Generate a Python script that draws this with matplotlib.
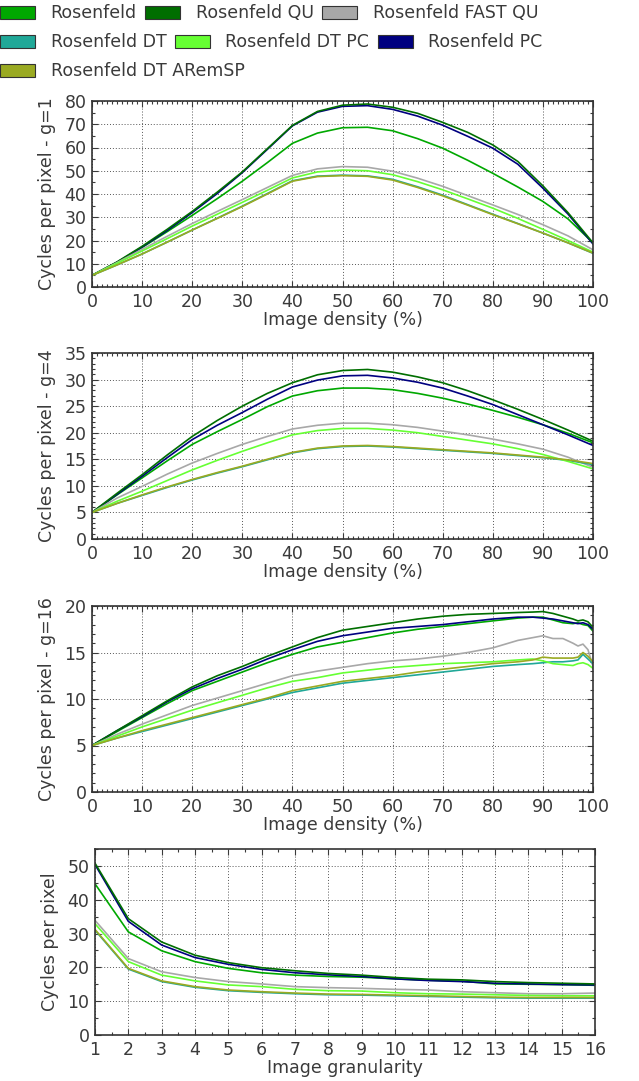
import numpy as np
import matplotlib.pyplot as plt
from matplotlib.patches import Patch
from matplotlib.ticker import MultipleLocator

# series names and colours
names = ["Rosenfeld", "Rosenfeld QU", "Rosenfeld FAST QU", "Rosenfeld DT",
         "Rosenfeld DT PC", "Rosenfeld PC", "Rosenfeld DT ARemSP"]
colors = ["#00a800", "#006e00", "#a8a8a8", "#20a898", "#66ff33", "#000080", "#9aaa22"]

# ---- g=1 ----
dens = list(range(0, 101, 5))
g1_ros = [5, 10.6, 17.0, 23.8, 30.8, 38, 45.5, 53.5, 61.8, 66.2, 68.5, 68.7, 67.2, 63.8, 59.7, 54.5, 48.9, 43, 36.8, 29.3, 19.0]
g1_qu = [5, 10.8, 17.5, 24.8, 32.5, 40.8, 49.5, 59.5, 69.5, 75.5, 78.2, 78.7, 77.3, 74.7, 70.8, 66.5, 61.1, 54.0, 43.5, 32.0, 19.0]
g1_fastqu = [5, 10.5, 16.2, 21.8, 27.3, 32.5, 37.6, 42.8, 48.0, 50.8, 51.8, 51.5, 49.8, 46.8, 43.3, 39.3, 35.3, 31.2, 26.8, 22, 16.0]
g1_dt = [5, 9.5, 14.2, 19.3, 24.5, 29.6, 34.8, 40.2, 45.7, 47.7, 48.1, 47.8, 46.3, 43.1, 39.5, 35.4, 31.3, 27.3, 23.2, 19, 14.5]
g1_dtpc = [5, 10.2, 15.5, 20.8, 26.2, 31.3, 36.4, 41.6, 46.9, 49.5, 50.3, 50.0, 48.3, 45.3, 41.8, 37.9, 33.9, 29.5, 24.8, 20, 15]
g1_pc = [5, 10.6, 17.2, 24.3, 32.0, 40.2, 49.2, 59.2, 69.3, 75.2, 77.7, 78.0, 76.4, 73.5, 69.6, 64.8, 59.7, 52.8, 42.5, 31.4, 18.5]
g1_arem = [5, 9.5, 14.2, 19.3, 24.5, 29.5, 34.6, 40, 45.5, 47.5, 47.9, 47.6, 46.0, 42.8, 39.2, 35.2, 31.1, 27.2, 23.2, 19, 14.6]

# ---- g=4 ----
g4_ros = [5, 8.3, 11.5, 14.7, 17.8, 20.2, 22.5, 24.9, 26.9, 27.9, 28.4, 28.4, 28.1, 27.4, 26.5, 25.4, 24.2, 22.9, 21.5, 19.9, 18.1]
g4_qu = [5, 8.6, 12.1, 15.8, 19.3, 22.3, 25.0, 27.4, 29.4, 30.9, 31.7, 31.9, 31.4, 30.5, 29.4, 27.9, 26.2, 24.4, 22.5, 20.5, 18.4]
g4_fastqu = [5, 7.7, 9.9, 12.2, 14.3, 16.1, 17.8, 19.3, 20.7, 21.4, 21.8, 21.8, 21.5, 21.0, 20.3, 19.6, 18.8, 17.9, 16.9, 15.4, 13.5]
g4_dt = [5, 6.7, 8.2, 9.7, 11.1, 12.4, 13.6, 14.9, 16.2, 17.0, 17.4, 17.5, 17.3, 17.0, 16.7, 16.4, 16.1, 15.7, 15.3, 14.8, 14.0]
g4_dtpc = [5, 7.1, 9.0, 11.0, 13.0, 14.8, 16.5, 18.1, 19.6, 20.4, 20.8, 20.8, 20.5, 20.0, 19.3, 18.6, 17.9, 17.0, 15.9, 14.6, 13.2]
g4_pc = [5, 8.4, 11.8, 15.3, 18.7, 21.4, 23.8, 26.3, 28.6, 29.9, 30.7, 30.8, 30.3, 29.5, 28.4, 26.9, 25.3, 23.4, 21.5, 19.6, 17.6]
g4_arem = [5, 6.7, 8.3, 9.8, 11.2, 12.5, 13.7, 15.0, 16.3, 17.1, 17.5, 17.6, 17.4, 17.1, 16.8, 16.5, 16.2, 15.8, 15.4, 14.9, 14.2]

# ---- g=16 ----
dens16 = list(range(0, 86, 5)) + [88, 90, 92, 94, 96, 97, 98, 99, 100]
g16_ros = [5, 6.5, 8.0, 9.5, 10.9, 11.9, 12.9, 13.9, 14.8, 15.6, 16.1, 16.6, 17.1, 17.5, 17.8, 18.1, 18.4, 18.7,
           18.8, 18.8, 18.5, 18.2, 18.1, 18.2, 18.0, 17.9, 17.3]
g16_qu = [5, 6.6, 8.2, 9.8, 11.3, 12.5, 13.5, 14.6, 15.6, 16.6, 17.4, 17.8, 18.2, 18.6, 18.9, 19.1, 19.2, 19.3,
          19.35, 19.4, 19.2, 18.9, 18.6, 18.4, 18.5, 18.3, 17.7]
g16_fastqu = [5, 6.2, 7.3, 8.3, 9.3, 10.1, 10.9, 11.7, 12.5, 13.0, 13.4, 13.8, 14.1, 14.3, 14.6, 15.0, 15.5, 16.3,
              16.6, 16.8, 16.5, 16.5, 16.0, 15.7, 15.9, 15.3, 13.5]
g16_dt = [5, 5.8, 6.5, 7.2, 7.9, 8.6, 9.3, 10.0, 10.7, 11.2, 11.7, 12.0, 12.3, 12.6, 12.9, 13.2, 13.5, 13.7,
          13.8, 13.9, 14.0, 14.0, 14.1, 14.2, 14.8, 14.3, 13.8]
g16_dtpc = [5, 6.0, 7.0, 7.9, 8.8, 9.6, 10.4, 11.2, 11.9, 12.3, 12.8, 13.1, 13.4, 13.6, 13.8, 13.9, 14.0, 14.2,
            14.3, 14.1, 13.8, 13.7, 13.6, 13.8, 13.9, 13.7, 13.3]
g16_pc = [5, 6.6, 8.1, 9.7, 11.1, 12.2, 13.2, 14.3, 15.3, 16.2, 16.8, 17.2, 17.6, 17.8, 18.0, 18.3, 18.6, 18.8,
          18.8, 18.7, 18.6, 18.4, 18.2, 18.1, 18.2, 18.0, 17.5]
g16_arem = [5, 5.8, 6.6, 7.3, 8.0, 8.7, 9.4, 10.1, 10.9, 11.4, 11.9, 12.2, 12.5, 12.9, 13.2, 13.5, 13.8, 14.0,
            14.2, 14.5, 14.4, 14.4, 14.4, 14.5, 15.0, 14.6, 14.0]

# ---- granularity ----
gran = list(range(1, 17))
gr_ros = [44.7, 30.5, 24.9, 21.7, 19.7, 18.4, 17.7, 17.3, 17.1, 16.6, 16.2, 15.9, 15.1, 15.0, 14.9, 14.7]
gr_qu = [50.8, 34.4, 27.5, 23.6, 21.4, 19.9, 19.0, 18.2, 17.7, 17.0, 16.5, 16.3, 15.8, 15.5, 15.3, 15.1]
gr_fastqu = [33.9, 22.6, 18.7, 17.0, 15.8, 15.1, 14.3, 14.0, 13.8, 13.5, 13.3, 12.8, 12.5, 12.2, 12.2, 12.4]
gr_dt = [31.0, 19.5, 15.8, 14.1, 13.1, 12.6, 12.2, 11.9, 11.8, 11.6, 11.4, 11.2, 11.0, 10.9, 10.9, 10.9]
gr_dtpc = [32.9, 21.7, 17.7, 16.0, 14.8, 14.3, 13.5, 13.1, 13.0, 12.5, 12.2, 12.1, 11.9, 11.7, 11.6, 11.6]
gr_pc = [50.4, 33.6, 26.6, 22.9, 20.9, 19.4, 18.4, 17.8, 17.3, 16.6, 16.1, 15.8, 15.3, 15.1, 14.9, 14.8]
gr_arem = [31.2, 19.7, 16.0, 14.3, 13.3, 12.8, 12.4, 12.1, 12.0, 11.8, 11.6, 11.4, 11.2, 11.1, 11.1, 11.1]

txt = "#3a3a3a"
plt.rcParams['font.family'] = ['DejaVu Sans']
plt.rcParams['text.color'] = txt
plt.rcParams['axes.labelcolor'] = txt
plt.rcParams['xtick.color'] = txt
plt.rcParams['ytick.color'] = txt

fig = plt.figure(figsize=(6.39, 10.81), dpi=100)

# draw order: PC under QU, ARemSP on top of DT
order = [0, 5, 1, 2, 3, 4, 6]


def panel(rect, x, series, ylabel, xlabel, ylim, ymaj, ymin, xlim, xmaj, xmin):
    ax = fig.add_axes(rect)
    for i in order:
        ax.plot(x, series[i], color=colors[i], lw=1.2)
    ax.set_xlim(*xlim)
    ax.set_ylim(*ylim)
    ax.xaxis.set_major_locator(MultipleLocator(xmaj))
    ax.xaxis.set_minor_locator(MultipleLocator(xmin))
    ax.yaxis.set_major_locator(MultipleLocator(ymaj))
    ax.yaxis.set_minor_locator(MultipleLocator(ymin))
    ax.tick_params(which='both', direction='in', top=True, right=True, labelsize=12.5, pad=4)
    ax.tick_params(which='major', length=4, width=0.8)
    ax.tick_params(which='minor', length=2.5, width=0.8)
    ax.grid(True, which='major', linestyle=(0, (1, 2)), color='#555555', lw=0.7)
    for s in ax.spines.values():
        s.set_color('#333333')
        s.set_linewidth(1.2)
    ax.set_ylabel(ylabel, fontsize=12.5, labelpad=6)
    ax.set_xlabel(xlabel, fontsize=12.5, labelpad=0)
    return ax


L, W, H = 92 / 639, 501 / 639, 186 / 1081
panel([L, 1 - 287 / 1081, W, H], dens,
      [g1_ros, g1_qu, g1_fastqu, g1_dt, g1_dtpc, g1_pc, g1_arem],
      "Cycles per pixel - g=1", "Image density (%)", (0, 80), 10, 5, (0, 100), 10, 1)
panel([L, 1 - 539 / 1081, W, H], dens,
      [g4_ros, g4_qu, g4_fastqu, g4_dt, g4_dtpc, g4_pc, g4_arem],
      "Cycles per pixel - g=4", "Image density (%)", (0, 35), 5, 1, (0, 100), 10, 1)
panel([L, 1 - 792 / 1081, W, H], dens16,
      [g16_ros, g16_qu, g16_fastqu, g16_dt, g16_dtpc, g16_pc, g16_arem],
      "Cycles per pixel - g=16", "Image density (%)", (0, 20), 5, 1, (0, 100), 10, 1)
panel([95 / 639, 1 - 1035 / 1081, 500 / 639, H], gran,
      [gr_ros, gr_qu, gr_fastqu, gr_dt, gr_dtpc, gr_pc, gr_arem],
      "Cycles per pixel", "Image granularity", (0, 55), 10, 5, (1, 16), 1, 0.5)

# legend laid out as three independent rows
rows = [[0, 1, 2], [3, 4, 5], [6]]
row_y = [1 - 1 / 1081, 1 - 30 / 1081, 1 - 59 / 1081]
for r, y in zip(rows, row_y):
    handles = [Patch(facecolor=colors[i], edgecolor='#333333', lw=0.8, label=names[i]) for i in r]
    fig.legend(handles=handles, loc='upper left', bbox_to_anchor=(-0.005, y), ncol=len(r),
               frameon=False, fontsize=12.5, handlelength=2.0, handleheight=0.75,
               handletextpad=0.9, columnspacing=0.5, borderaxespad=0, borderpad=0.2)

fig.savefig("out.png", dpi=100)
